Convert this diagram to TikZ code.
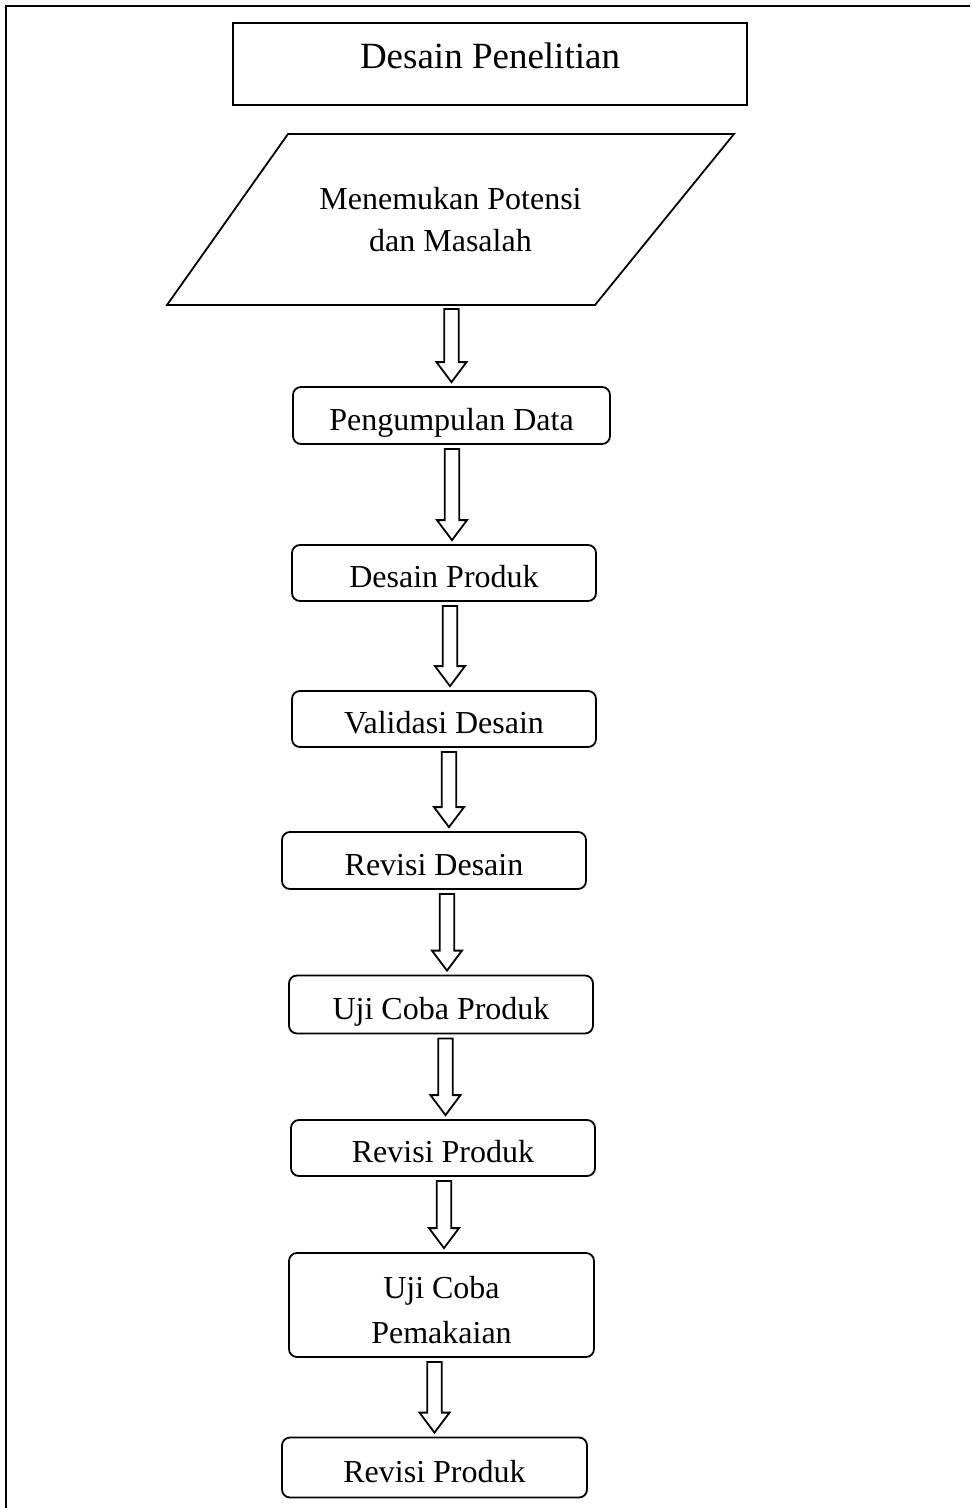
\documentclass[tikz,border=0pt]{standalone}
\usepackage{fontspec}
\setmainfont{Liberation Serif}
\usetikzlibrary{calc}

\newcommand{\flowarrow}[3]{%
  \draw[fatarrow] let \p1=($(#2.south)+(#1,4)$), \p2=($(#3.north)+(0,-4)$) in
    (\x1-3.6pt,\y1) -- (\x1-3.6pt,\y2+10pt) -- (\x1-7.5pt,\y2+10pt) -- (\x1,\y2)
    -- (\x1+7.5pt,\y2+10pt) -- (\x1+3.6pt,\y2+10pt) -- (\x1+3.6pt,\y1) -- cycle;}

\begin{document}
\begin{tikzpicture}[x=0.5pt, y=-0.5pt,
  stepbox/.style = {draw, rounded corners=4pt, line width=0.9pt, inner sep=0pt, align=center,
                    minimum width=152pt, minimum height=28pt, text height=14.6pt, text depth=0pt,
                    font=\fontsize{16}{21.5}\selectfont},
  titlebox/.style = {draw, line width=0.9pt, inner sep=0pt, minimum width=257pt, minimum height=41pt,
                     text height=12.5pt, text depth=8.2pt, font=\fontsize{18.5}{22}\selectfont},
  potensibox/.style = {inner sep=0pt, outer sep=0pt, minimum width=283.5pt, minimum height=85.5pt,
                       align=center, font=\fontsize{16}{21}\selectfont},
  fatarrow/.style = {draw, line width=0.9pt, line join=miter},
  frame/.style = {line width=1.4pt},
  ]
  \useasboundingbox (0,0) rectangle (970,1508);
  \draw[frame] (6,1508) -- (6,6) -- (970,6);

  \node[titlebox] (judul) at (490,64) {Desain Penelitian};
  \node[potensibox] (potensi) at (450.5,219.5) {Menemukan Potensi\\dan Masalah};
  \draw[line width=0.9pt] (potensi.south west) -- ($(potensi.north west)+(121,0)$)
    -- (potensi.north east) -- ($(potensi.south east)+(-139,0)$) -- cycle;
  \node[stepbox, minimum width=158.5pt, minimum height=28.5pt] (data) at (451.5,415.5) {Pengumpulan Data};
  \node[stepbox] (produk) at (444,573) {Desain Produk};
  \node[stepbox] (validasi) at (444,719) {Validasi Desain};
  \node[stepbox, minimum height=28.5pt] (revdesain) at (434,860.5) {Revisi Desain};
  \node[stepbox, minimum height=29pt] (ujiproduk) at (441,1004.5) {Uji Coba Produk};
  \node[stepbox] (revproduk) at (443,1148) {Revisi Produk};
  \node[stepbox, minimum width=152.5pt, minimum height=52pt, text height=38.1pt,
        font=\fontsize{16}{22.5}\selectfont] (pemakaian) at (441.5,1305) {Uji Coba\\Pemakaian};
  \node[stepbox, minimum width=152.5pt, minimum height=30pt] (revakhir) at (434.5,1467.5) {Revisi Produk};

  \flowarrow{1}{potensi}{data}
  \flowarrow{0.5}{data}{produk}
  \flowarrow{6}{produk}{validasi}
  \flowarrow{5}{validasi}{revdesain}
  \flowarrow{13}{revdesain}{ujiproduk}
  \flowarrow{4.5}{ujiproduk}{revproduk}
  \flowarrow{1}{revproduk}{pemakaian}
  \flowarrow{-7}{pemakaian}{revakhir}
\end{tikzpicture}
\end{document}
